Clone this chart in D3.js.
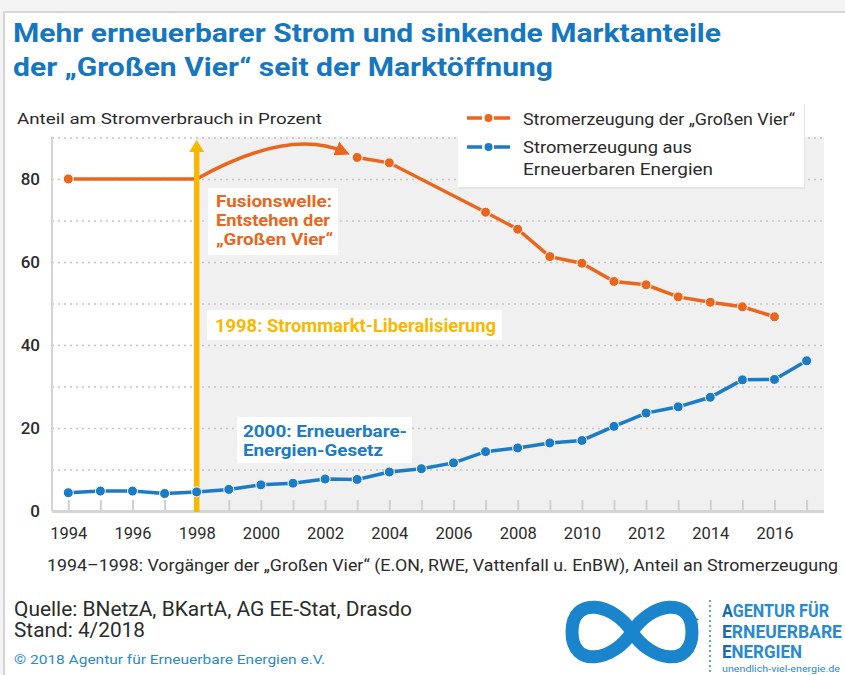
<!DOCTYPE html>
<html>
<head>
<meta charset="utf-8">
<script src="https://cdn.jsdelivr.net/npm/d3@7/dist/d3.min.js"></script>
<style>
  html, body { margin: 0; padding: 0; background: #f4f4f4; }
  svg { display: block; }
  text { font-family: Roboto, "Open Sans", sans-serif; }
</style>
</head>
<body>
<div id="chart"></div>
<script>
// ---------- data ----------
const tickYears = [1994,1995,1996,1997,1998,1999,2000,2001,2002,2003,2004,2005,2006,2007,2008,2009,2010,2011,2012,2013,2014,2015,2016,2017];
const labelYears = [1994,1996,1998,2000,2002,2004,2006,2008,2010,2012,2014,2016];
const yTickValues = [0,20,40,60,80];
const gridValues = [10,20,30,40,50,60,70,80,90];

// "Große Vier" share (1994–1998 predecessors, then from 2003)
const vierYears = [1994, 1998];
const vierValues = [80, 80];
const vierYears2 = [2003,2004,2007,2008,2009,2010,2011,2012,2013,2014,2015,2016];
const vierValues2 = [85.2,83.9,72.0,67.9,61.3,59.7,55.3,54.5,51.6,50.3,49.2,46.8];

// Renewable share
const eeYears = [1994,1995,1996,1997,1998,1999,2000,2001,2002,2003,2004,2005,2006,2007,2008,2009,2010,2011,2012,2013,2014,2015,2016,2017];
const eeValues = [4.4,4.8,4.8,4.2,4.6,5.2,6.3,6.7,7.7,7.6,9.4,10.2,11.6,14.3,15.2,16.4,17.0,20.4,23.6,25.1,27.4,31.6,31.7,36.2];

// annotation curve (Fusionswelle) control points in data units
const fusionCurve = [[1998,80],[1999.5,86.5],[2001.2,91.3],[2002.6,86.5]];

const ORANGE = "#e9661c", BLUE = "#1b7bc4", YELLOW = "#f9b700", TITLE = "#1677c0";

// ---------- layout ----------
const W = 845, H = 675;
const svg = d3.select("#chart").append("svg").attr("width", W).attr("height", H);

const x = d3.scaleLinear().domain([1994, 2017]).range([68.3, 806.6]);
const y = d3.scaleLinear().domain([0, 90]).range([511, 137.5]);
const plotL = 52, plotR = 824;

function fitText(sel, xx, yy, size, len, str, fill, weight) {
  return sel.append("text").attr("x", xx).attr("y", yy).attr("font-size", size)
    .attr("fill", fill).attr("font-weight", weight || 400)
    .attr("textLength", len).attr("lengthAdjust", "spacingAndGlyphs").text(str);
}

// frame
svg.append("rect").attr("x", 4).attr("y", 12).attr("width", 860).attr("height", 680)
  .attr("fill", "#fff").attr("stroke", "#d6d6d6").attr("stroke-width", 2);

// title
fitText(svg, 13, 42, 25, 708, "Mehr erneuerbarer Strom und sinkende Marktanteile", TITLE, 700);
fitText(svg, 13, 76, 25, 540, "der \u201EGroßen Vier\u201C seit der Marktöffnung", TITLE, 700);

// y-axis title
fitText(svg, 17, 124, 15.5, 305, "Anteil am Stromverbrauch in Prozent", "#2b2b2b");

// gray background right of 1998
svg.append("rect").attr("x", x(1998)).attr("y", y(90) - 1).attr("width", plotR - x(1998)).attr("height", y(0) - y(90) + 1)
  .attr("fill", "#f0f0f0");

// gridlines
const grid = svg.append("g").attr("transform", `translate(${plotL},0)`)
  .call(d3.axisLeft(y).tickValues(gridValues).tickSize(-(plotR - plotL)).tickFormat(""));
grid.select(".domain").remove();
grid.selectAll("line").attr("stroke", "#c4c4c4").attr("stroke-width", 1.6).attr("stroke-dasharray", "2,4");

// left axis line
svg.append("line").attr("x1", plotL).attr("x2", plotL).attr("y1", y(90) - 1).attr("y2", y(0))
  .attr("stroke", "#d4d4d4").attr("stroke-width", 2);

// y tick labels
const yAx = svg.append("g").attr("transform", "translate(40,0)")
  .call(d3.axisLeft(y).tickValues(yTickValues).tickSize(0).tickPadding(0));
yAx.select(".domain").remove();
yAx.selectAll("text").attr("font-size", 17).attr("fill", "#2b2b2b").attr("font-family", "Roboto, sans-serif").attr("font-weight", 500);

// x ticks (every year, upward)
const xT = svg.append("g").attr("transform", `translate(0,${y(0)})`)
  .call(d3.axisBottom(x).tickValues(tickYears).tickSize(-11).tickFormat(""));
xT.select(".domain").remove();
xT.selectAll("line").attr("stroke", "#d0d0d0").attr("stroke-width", 2);

// bottom axis line
svg.append("line").attr("x1", plotL).attr("x2", plotR).attr("y1", y(0) + 0.5).attr("y2", y(0) + 0.5)
  .attr("stroke", "#d4d4d4").attr("stroke-width", 3);

// x labels
const xL = svg.append("g").attr("transform", `translate(0,${y(0)})`)
  .call(d3.axisBottom(x).tickValues(labelYears).tickSize(0).tickPadding(16).tickFormat(d3.format("d")));
xL.select(".domain").remove();
xL.selectAll("text").attr("font-size", 16.5).attr("fill", "#2b2b2b").attr("font-family", "Roboto, sans-serif");

// annotation boxes
function box(x0, y0, w, h) {
  svg.append("rect").attr("x", x0).attr("y", y0).attr("width", w).attr("height", h).attr("fill", "#fff");
}
box(208, 188, 130, 67);
box(207, 310, 295, 30);
box(237, 417, 175, 46);

fitText(svg, 216, 207, 16, 116, "Fusionswelle:", ORANGE, 700);
fitText(svg, 216, 226, 16, 114, "Entstehen der", ORANGE, 700);
fitText(svg, 216, 245, 16, 117, "\u201EGroßen Vier\u201C", ORANGE, 700);

fitText(svg, 215, 332, 17.5, 281, "1998: Strommarkt-Liberalisierung", YELLOW, 700);

fitText(svg, 243, 437, 16.5, 164, "2000: Erneuerbare-", BLUE, 700);
fitText(svg, 243, 456, 16.5, 140, "Energien-Gesetz", BLUE, 700);

// defs: arrowheads
const defs = svg.append("defs");
defs.append("marker").attr("id", "arrO").attr("viewBox", "0 0 10 10").attr("refX", 6).attr("refY", 5)
  .attr("markerWidth", 4.2).attr("markerHeight", 4.2).attr("orient", "auto").attr("markerUnits", "strokeWidth")
  .append("path").attr("d", "M0,0 L10,5 L0,10 Z").attr("fill", ORANGE);

// orange lines
const line = d3.line().x(d => x(d[0])).y(d => y(d[1]));
svg.append("path").datum(vierYears.map((d, i) => [d, vierValues[i]])).attr("d", line)
  .attr("fill", "none").attr("stroke", ORANGE).attr("stroke-width", 3.5);

// Fusionswelle curve arrow
const p = fusionCurve.map(d => [x(d[0]), y(d[1])]);
svg.append("path").attr("d", `M${p[0]} C${p[1]} ${p[2]} ${p[3]}`)
  .attr("fill", "none").attr("stroke", ORANGE).attr("stroke-width", 3.5).attr("marker-end", "url(#arrO)");

svg.append("path").datum(vierYears2.map((d, i) => [d, vierValues2[i]])).attr("d", line)
  .attr("fill", "none").attr("stroke", ORANGE).attr("stroke-width", 3.5);

const vierDots = [[vierYears[0], vierValues[0]]].concat(vierYears2.map((d, i) => [d, vierValues2[i]]));
svg.append("g").selectAll("circle").data(vierDots).join("circle")
  .attr("cx", d => x(d[0])).attr("cy", d => y(d[1])).attr("r", 5)
  .attr("fill", ORANGE).attr("stroke", "#fff").attr("stroke-width", 1);

// yellow arrow 1998
const ax = x(1998);
svg.append("line").attr("x1", ax).attr("x2", ax).attr("y1", y(0) + 1).attr("y2", 150)
  .attr("stroke", YELLOW).attr("stroke-width", 5.5);
svg.append("path").attr("d", `M${ax - 7.5},152 L${ax},140 L${ax + 7.5},152 Z`).attr("fill", YELLOW);

// blue line
const eeData = eeYears.map((d, i) => [d, eeValues[i]]);
svg.append("path").datum(eeData).attr("d", line)
  .attr("fill", "none").attr("stroke", BLUE).attr("stroke-width", 3.5);
svg.append("g").selectAll("circle").data(eeData).join("circle")
  .attr("cx", d => x(d[0])).attr("cy", d => y(d[1])).attr("r", 5)
  .attr("fill", BLUE).attr("stroke", "#fff").attr("stroke-width", 1);

// legend
svg.append("rect").attr("x", 459).attr("y", 104).attr("width", 346).attr("height", 85).attr("fill", "#e4e4e4");
svg.append("rect").attr("x", 458).attr("y", 102).attr("width", 346).attr("height", 85).attr("fill", "#fff");
const legend = [
  { color: ORANGE, y: 118, lines: [["Stromerzeugung der \u201EGroßen Vier\u201C", 272, 125]] },
  { color: BLUE, y: 147, lines: [["Stromerzeugung aus", 169, 153], ["Erneuerbaren Energien", 190, 175]] }
];
legend.forEach(l => {
  const g = svg.append("g");
  g.append("line").attr("x1", 467).attr("x2", 482).attr("y1", l.y).attr("y2", l.y).attr("stroke", l.color).attr("stroke-width", 3.5);
  g.append("line").attr("x1", 494).attr("x2", 510).attr("y1", l.y).attr("y2", l.y).attr("stroke", l.color).attr("stroke-width", 3.5);
  g.append("circle").attr("cx", 488.5).attr("cy", l.y).attr("r", 4).attr("fill", l.color);
  l.lines.forEach(s => fitText(g, 523, s[2], 17, s[1], s[0], "#2b2b2b"));
});

// footnote
fitText(svg, 47, 571, 16, 791,
  "1994\u20131998: Vorgänger der \u201EGroßen Vier\u201C (E.ON, RWE, Vattenfall u. EnBW), Anteil an Stromerzeugung", "#2b2b2b");

// source
fitText(svg, 14, 616, 19.5, 398, "Quelle: BNetzA, BKartA, AG EE-Stat, Drasdo", "#2b2b2b");
fitText(svg, 14, 637, 19.5, 131, "Stand: 4/2018", "#2b2b2b");
fitText(svg, 14, 664, 13, 311, "© 2018 Agentur für Erneuerbare Energien e.V.", "#2a8ad0");

// logo
const logo = svg.append("g");
logo.append("path")
  .attr("d", "M632,632 C650,603 692,595 692,632 C692,669 650,661 632,632 C614,603 572,595 572,632 C572,669 614,661 632,632 Z")
  .attr("fill", "none").attr("stroke", "#1a84cc").attr("stroke-width", 13);
logo.append("path").attr("d", "M686,616 L699,619 L690,628 Z").attr("fill", "#1a84cc");
logo.append("line").attr("x1", 710).attr("x2", 710).attr("y1", 600).attr("y2", 672)
  .attr("stroke", "#5aa6dc").attr("stroke-width", 2).attr("stroke-dasharray", "2,3");
[["A", "GENTUR FÜR", 617, 107], ["E", "RNEUERBARE", 638, 120], ["E", "NERGIEN", 658, 80]].forEach(r => {
  const t = logo.append("text").attr("x", 722).attr("y", r[2]).attr("font-size", 18).attr("font-weight", 700)
    .attr("textLength", r[3]).attr("lengthAdjust", "spacingAndGlyphs");
  t.append("tspan").attr("fill", "#146bb0").text(r[0]);
  t.append("tspan").attr("fill", "#2a8ad0").text(r[1]);
});
fitText(logo, 722, 672, 9.5, 118, "unendlich-viel-energie.de", "#2a8ad0");
</script>
</body>
</html>
